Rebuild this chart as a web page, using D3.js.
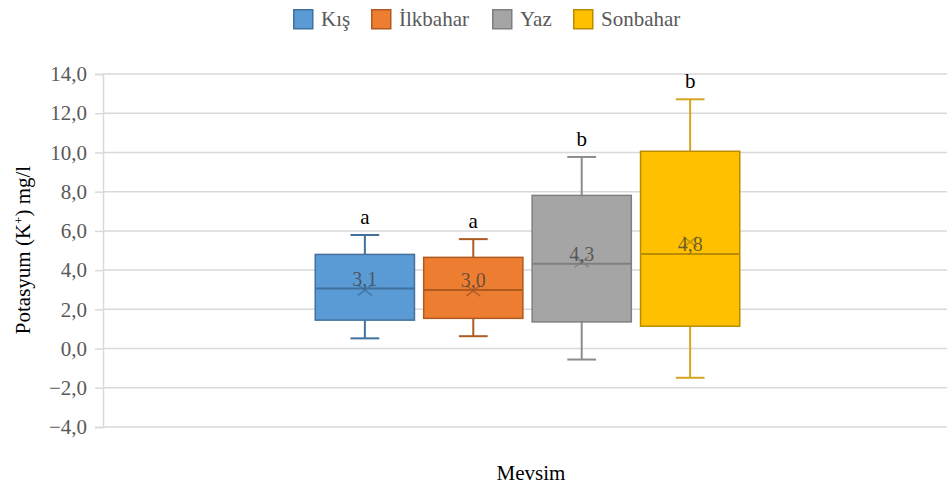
<!DOCTYPE html>
<html>
<head>
<meta charset="utf-8">
<script src="https://cdn.jsdelivr.net/npm/d3@7/dist/d3.min.js"></script>
<style>
  html, body { margin: 0; padding: 0; background: #fff; }
  svg text { font-family: "Liberation Serif", "Tinos", "Times New Roman", "DejaVu Serif", serif !important; }
</style>
</head>
<body>
<svg id="chart" width="947" height="488"></svg>
<script>
// Seasonal potassium (K+) distribution, mg/l
const seasons   = ["Kış", "İlkbahar", "Yaz", "Sonbahar"];
const minVals   = [0.52, 0.63, -0.56, -1.49];
const q1Vals    = [1.45, 1.54, 1.36, 1.14];
const medians   = [3.06, 2.98, 4.32, 4.82];
const q3Vals    = [4.80, 4.65, 7.81, 10.06];
const maxVals   = [5.79, 5.58, 9.77, 12.71];
const means     = [2.98, 2.94, 4.42, 5.44];
const groupTags = ["a", "a", "b", "b"];
const fills     = ["#5B9BD5", "#ED7D31", "#A5A5A5", "#FFC000"];
const strokes   = ["#41719C", "#AE5A21", "#7F7F7F", "#BC8C00"];
const whiskerColors = ["#41719C", "#AE5A21", "#8C8C8C", "#D4A520"];
const yTicks    = [-4, -2, 0, 2, 4, 6, 8, 10, 12, 14];
const category  = ["Mevsim"];

const serif = "'Liberation Serif', 'Times New Roman', serif";
const locale = d3.formatLocale({ decimal: ",", thousands: ".", grouping: [3], currency: ["", ""] });
const fmt = locale.format(".1f");

const svg = d3.select("#chart").attr("font-family", serif);
const plotLeft = 103, plotRight = 952, plotTop = 74, plotBottom = 427;

const y = d3.scaleLinear().domain([-4, 14]).range([plotBottom, plotTop]);
const x0 = d3.scaleBand().domain(category).range([plotLeft, plotRight]).paddingInner(0).paddingOuter(0.5);
const x1 = d3.scaleBand().domain(seasons).range([0, x0.bandwidth()]).paddingInner(0.085).paddingOuter(0);

// gridlines
svg.append("g")
  .selectAll("line")
  .data(yTicks)
  .join("line")
  .attr("x1", plotLeft).attr("x2", 947)
  .attr("y1", d => y(d)).attr("y2", d => y(d))
  .attr("stroke", "#d9d9d9").attr("stroke-width", 1.5);

// y axis
const yAxis = d3.axisLeft(y).tickValues(yTicks).tickSize(8).tickPadding(8).tickFormat(fmt);
const gy = svg.append("g").attr("transform", `translate(${plotLeft},0)`).call(yAxis)
  .attr("font-family", serif).attr("font-size", 21);
gy.select(".domain").attr("stroke", "#d9d9d9").attr("stroke-width", 1.5);
gy.selectAll(".tick line").attr("stroke", "#d9d9d9").attr("stroke-width", 1.5);
gy.selectAll(".tick text").attr("fill", "#595959");

// boxes
const data = seasons.map((s, i) => ({
  s, i, min: minVals[i], q1: q1Vals[i], med: medians[i], q3: q3Vals[i], max: maxVals[i], mean: means[i], tag: groupTags[i]
}));

const bw = x1.bandwidth();
const capW = bw * 0.29;
const groups = svg.append("g")
  .selectAll("g")
  .data(data)
  .join("g")
  .attr("transform", d => `translate(${x0("Mevsim") + x1(d.s)},0)`);

// whiskers
groups.append("line")
  .attr("x1", bw / 2).attr("x2", bw / 2)
  .attr("y1", d => y(d.max)).attr("y2", d => y(d.q3))
  .attr("stroke", d => whiskerColors[d.i]).attr("stroke-width", 2);
groups.append("line")
  .attr("x1", bw / 2).attr("x2", bw / 2)
  .attr("y1", d => y(d.q1)).attr("y2", d => y(d.min))
  .attr("stroke", d => whiskerColors[d.i]).attr("stroke-width", 2);
groups.append("line")
  .attr("x1", bw / 2 - capW / 2).attr("x2", bw / 2 + capW / 2)
  .attr("y1", d => y(d.max)).attr("y2", d => y(d.max))
  .attr("stroke", d => whiskerColors[d.i]).attr("stroke-width", 2);
groups.append("line")
  .attr("x1", bw / 2 - capW / 2).attr("x2", bw / 2 + capW / 2)
  .attr("y1", d => y(d.min)).attr("y2", d => y(d.min))
  .attr("stroke", d => whiskerColors[d.i]).attr("stroke-width", 2);

// box body
groups.append("rect")
  .attr("x", 0).attr("width", bw)
  .attr("y", d => y(d.q3)).attr("height", d => y(d.q1) - y(d.q3))
  .attr("fill", d => fills[d.i])
  .attr("stroke", d => strokes[d.i]).attr("stroke-width", 1.5);

// median line
groups.append("line")
  .attr("x1", 0).attr("x2", bw)
  .attr("y1", d => y(d.med)).attr("y2", d => y(d.med))
  .attr("stroke", d => strokes[d.i]).attr("stroke-width", 2);

// mean marker
const m = 7;
groups.append("path")
  .attr("d", d => {
    const cx = bw / 2, cy = y(d.mean);
    return `M${cx - m},${cy - m * 0.75}L${cx + m},${cy + m * 0.75}M${cx - m},${cy + m * 0.75}L${cx + m},${cy - m * 0.75}`;
  })
  .attr("fill", "none")
  .attr("stroke", d => strokes[d.i]).attr("stroke-width", 1.5).attr("opacity", 0.85);

// median value labels
groups.append("text")
  .attr("x", bw / 2).attr("y", d => y(d.med) - 3)
  .attr("text-anchor", "middle")
  .attr("fill", "#404040").attr("fill-opacity", 0.75)
  .attr("font-size", 20)
  .text(d => fmt(d.med));

// significance letters
groups.append("text")
  .attr("x", bw / 2).attr("y", d => y(d.max) - 11)
  .attr("text-anchor", "middle")
  .attr("fill", "#000")
  .attr("font-size", 21)
  .text(d => d.tag);

// axis titles
svg.append("text")
  .attr("transform", "translate(30,250) rotate(-90)")
  .attr("text-anchor", "middle")
  .attr("fill", "#000")
  .attr("font-size", 21)
  .html('Potasyum (K<tspan baseline-shift="super" font-size="13">+</tspan>) mg/l');

svg.append("text")
  .attr("x", 531).attr("y", 480)
  .attr("text-anchor", "middle")
  .attr("fill", "#000")
  .attr("font-size", 21)
  .text(category[0]);

// legend
const legendX = [293, 371, 492, 573];
const legend = svg.append("g")
  .selectAll("g")
  .data(seasons)
  .join("g")
  .attr("transform", (d, i) => `translate(${legendX[i]},9)`);
legend.append("rect")
  .attr("x", 0.75).attr("y", 0.75).attr("width", 19).attr("height", 19)
  .attr("fill", (d, i) => fills[i])
  .attr("stroke", (d, i) => strokes[i]).attr("stroke-width", 1.5);
legend.append("text")
  .attr("x", 28).attr("y", 17)
  .attr("fill", "#595959")
  .attr("font-size", 21)
  .text(d => d);
</script>
</body>
</html>
